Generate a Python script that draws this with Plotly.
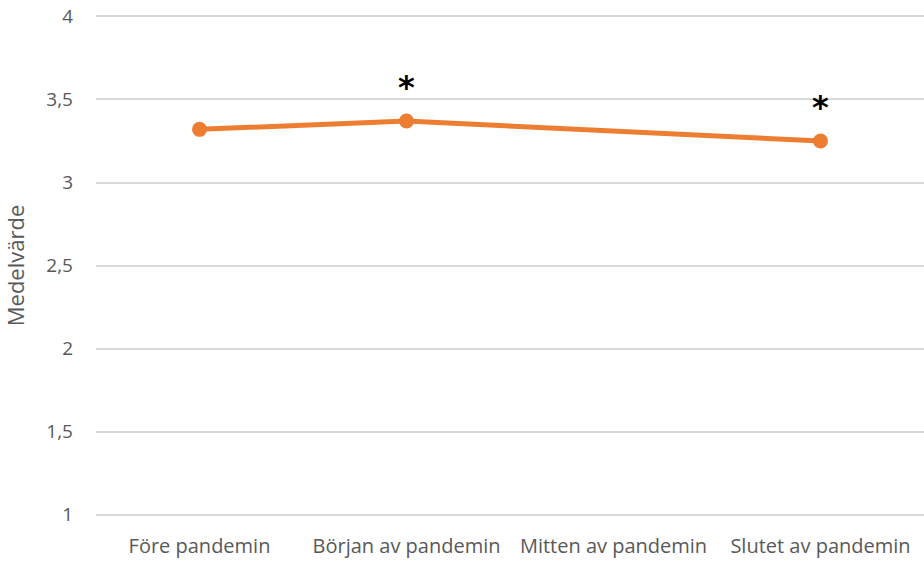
import plotly.graph_objects as go

categories = ["Före pandemin", "Början av pandemin", "Mitten av pandemin", "Slutet av pandemin"]
values = [3.32, 3.37, None, 3.25]
stars = ["", "*", "", "*"]
y_ticks = [1, 1.5, 2, 2.5, 3, 3.5, 4]
y_tick_labels = ["1", "1,5", "2", "2,5", "3", "3,5", "4"]

color = "#ED7D31"
font = "'Open Sans', sans-serif"
text_color = "#595959"

fig = go.Figure()
fig.add_trace(go.Scatter(
    x=categories, y=values, mode="lines+markers", connectgaps=True,
    line=dict(color=color, width=5), marker=dict(color=color, size=15),
    showlegend=False, hoverinfo="skip"))

for c, v, s in zip(categories, values, stars):
    if s and v is not None:
        fig.add_annotation(x=c, y=v, text="<b>" + s + "</b>", showarrow=False, yshift=34,
                           font=dict(size=32, color="black", family="DejaVu Sans"))

fig.update_layout(
    width=924, height=561,
    margin=dict(l=96, r=0, t=14, b=44),
    paper_bgcolor="white", plot_bgcolor="white",
    font=dict(family=font, size=20, color=text_color),
    xaxis=dict(type="category", range=[-0.5, 3.5], showgrid=False, showline=False,
               zeroline=False, ticks="", ticklabelstandoff=15,
               tickfont=dict(size=20, color=text_color)),
    yaxis=dict(range=[0.985, 4.015], tickvals=y_ticks, ticktext=y_tick_labels,
               showgrid=True, gridcolor="#D9D9D9", gridwidth=1.5, zeroline=False,
               showline=False, ticks="", ticklabelstandoff=22, ticklabeloverflow="allow",
               tickfont=dict(size=19, color=text_color),
               title=dict(text="Medelvärde", font=dict(size=22, color=text_color),
                          standoff=18)),
)
fig.write_html("out.html", config={"displayModeBar": False},
               post_script="document.body.style.margin='0';document.body.style.overflow='hidden';")
